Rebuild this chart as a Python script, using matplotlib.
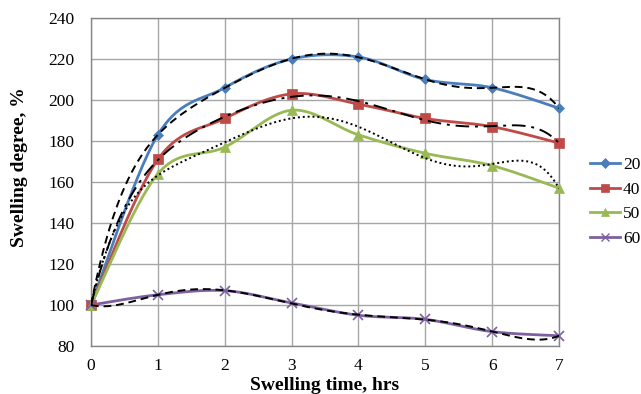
import numpy as np
import matplotlib
matplotlib.use("Agg")
import matplotlib.pyplot as plt
from matplotlib.lines import Line2D

hours = [0, 1, 2, 3, 4, 5, 6, 7]
series_names = ["20", "40", "50", "60"]
s20 = [100, 183, 206, 220, 221, 210, 206, 196]
s40 = [100, 171, 191, 203, 198, 191, 187, 179]
s50 = [100, 164, 177, 195, 183, 174, 168, 157]
s60 = [100, 105, 107, 101, 95, 93, 87, 85]
yticks = [80, 100, 120, 140, 160, 180, 200, 220, 240]

colors = ["#4A7EBB", "#BE4B48", "#98B954", "#7D60A0"]
markers = ["D", "s", "^", "x"]
msizes = [5.5, 7.5, 7.5, 7]
trend_styles = [(0, (4, 2.5)), (0, (7, 3, 1.5, 3)), (0, (1, 1.5)), (0, (4, 2.5))]

plt.rcParams['font.family'] = ['Liberation Serif', 'DejaVu Serif']

def smooth(xs, ys, n=30):
    P = np.column_stack([xs, ys]).astype(float)
    Pext = np.vstack([P[0], P, P[-1]])
    out = []
    for i in range(len(P) - 1):
        p0, p1, p2, p3 = Pext[i], Pext[i + 1], Pext[i + 2], Pext[i + 3]
        c1 = p1 + (p2 - p0) / 6.0
        c2 = p2 - (p3 - p1) / 6.0
        t = np.linspace(0, 1, n)[:, None]
        seg = ((1 - t) ** 3) * p1 + 3 * ((1 - t) ** 2) * t * c1 + 3 * (1 - t) * t ** 2 * c2 + t ** 3 * p2
        out.append(seg if i == 0 else seg[1:])
    out = np.vstack(out)
    return out[:, 0], out[:, 1]

fig = plt.figure(figsize=(6.41, 3.94), dpi=100)
ax = fig.add_axes([91 / 641, 1 - 346 / 394, (559 - 91) / 641, (346 - 18) / 394])

handles = []
for data, c, m, ms, ts, name in zip([s20, s40, s50, s60], colors, markers, msizes, trend_styles, series_names):
    sx, sy = smooth(hours, data)
    ax.plot(sx, sy, color=c, lw=2, zorder=3)
    ax.plot(hours, data, linestyle='none', marker=m, color=c, ms=ms,
            mec=c, mew=1.2 if m == 'x' else 0.5, zorder=4, clip_on=False)
    coef = np.polyfit(hours, data, 6)
    tx = np.linspace(0, 7, 300)
    ax.plot(tx, np.polyval(coef, tx), color='black', lw=1.4, linestyle=ts, zorder=5)
    handles.append(Line2D([0], [0], color=c, lw=2, marker=m, ms=ms * 0.85, mec=c,
                          mew=1.0 if m == 'x' else 0.5))

ax.set_xlim(0, 7)
ax.set_ylim(80, 240)
ax.set_xticks(hours)
ax.set_yticks(yticks)
ax.grid(True, color='#A6A6A6', lw=1)
ax.set_axisbelow(True)
for sp in ax.spines.values():
    sp.set_color('#868686')
    sp.set_linewidth(1)
ax.tick_params(axis='y', length=0, labelsize=12.5, pad=12)
ax.tick_params(axis='x', length=0, labelsize=12.5, pad=9)
ax.set_ylabel("Swelling degree, %", fontsize=14, fontweight='bold')
ax.yaxis.set_label_coords(-0.152, 0.546)
ax.set_xlabel("Swelling time, hrs", fontsize=14, fontweight='bold')
ax.xaxis.set_label_coords(0.5, -0.12)
ax.xaxis.label.set_va('center')
ax.yaxis.label.set_va('center')

fig.legend(handles, series_names, loc='center left', bbox_to_anchor=(590 / 641, 1 - 202 / 394),
           frameon=False, fontsize=12.5, handlelength=1.75, handletextpad=0.15,
           labelspacing=0.5, borderaxespad=0, borderpad=0)

fig.savefig("out.png", dpi=100)
